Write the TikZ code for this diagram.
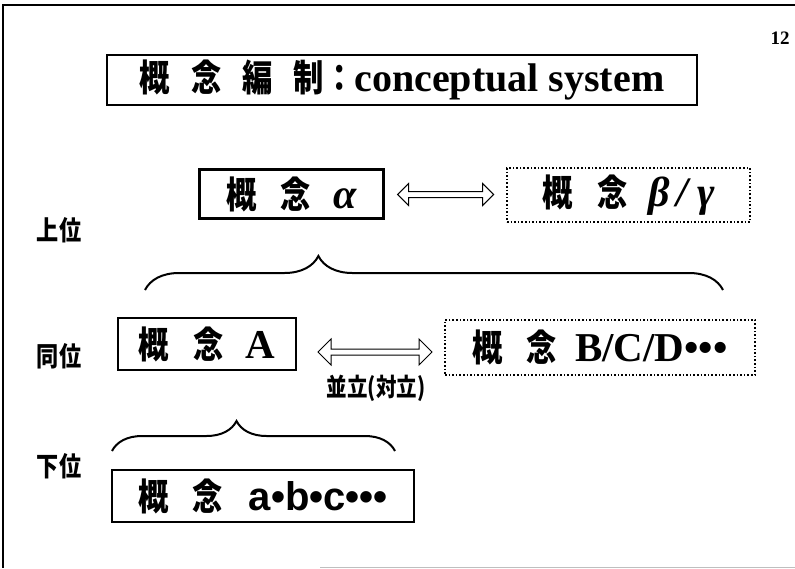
\documentclass[tikz,border=0pt]{standalone}
\usepackage{fontspec}
\setmainfont{Liberation Serif}
\newfontfamily\jp{Noto Sans CJK JP}[FakeStretch=0.82]
\newfontfamily\lsans{Liberation Sans}
\usetikzlibrary{shapes.arrows,decorations.pathreplacing,calc}
\newcommand{\kg}[1]{{\jp\bfseries\fontsize{37}{37}\selectfont 概\hspace{#1}念}}
\begin{document}
\begin{tikzpicture}[x=1pt,y=-1pt,
  solidbox/.style={draw, line width=2.8pt, inner sep=0pt, font=\bfseries},
  dotbox/.style={draw, dotted, line width=1.6pt, inner sep=0pt, font=\bfseries},
  hollowarrow/.style={double arrow, draw, line width=1pt, inner sep=2.5pt,
    double arrow head extend=8pt, minimum width=5pt},
  levellabel/.style={font=\jp\bfseries\fontsize{27}{27}\selectfont},
  bracestyle/.style={draw, line width=2pt, decorate},
]
\useasboundingbox (0,0) rectangle (795,568);
% page frame
\draw[line width=1.2pt] (795,5) -- (3,5) -- (3,568);
\draw[line width=0.6pt, black!25] (320,567) -- (795,567);
% page number
\node[font=\bfseries\fontsize{19}{19}\selectfont] (pg) at (780,38) {12};
% title
\node[solidbox, minimum width=590pt, minimum height=50pt] (title) at (402,80)
  {{\jp\fontsize{37}{37}\selectfont 概\hspace{21pt}念\hspace{21pt}編\hspace{21pt}制：}{\fontsize{40}{40}\selectfont conceptual system}};
% level labels
\node[levellabel] (upper) at (59,230) {上位};
\node[levellabel] (same) at (59,356) {同位};
\node[levellabel] (lower) at (59,466) {下位};
% upper row
\node[solidbox, minimum width=184pt, minimum height=49pt] (alpha) at (291.5,194)
  {\kg{24pt}\hspace{22pt}{\fontsize{42}{42}\selectfont\itshape α}};
\node[dotbox, minimum width=243pt, minimum height=54pt] (beta) at (628.5,195)
  {\kg{25pt}\hspace{20pt}{\fontsize{42}{42}\selectfont\itshape β\hspace{7pt}/\hspace{9pt}γ}};
\node[hollowarrow, minimum height=96pt] (arr1) at ($(alpha.east)!0.5!(beta.west)$) {};
% middle row
\node[solidbox, minimum width=178pt, minimum height=52pt] (A) at (207,344)
  {\kg{24pt}\hspace{22pt}{\fontsize{41}{41}\selectfont A}};
\node[dotbox, minimum width=310pt, minimum height=55pt] (BCD) at (600,347.5)
  {\kg{24pt}\hspace{18pt}{\fontsize{41}{41}\selectfont B/C/D•••}};
\node[hollowarrow, minimum height=114pt, double arrow head extend=10pt] (arr2) at (375,352) {};
\node[font=\jp\bfseries\fontsize{25}{25}\selectfont] (par) at (376,388) {並立(対立)};
% lower row
\node[solidbox, minimum width=302pt, minimum height=52pt] (abc) at (263,496)
  {\kg{24pt}\hspace{26pt}{\lsans\fontsize{40}{40}\selectfont a•b•c•••}};
% braces
\coordinate (b1l) at (145,290);
\coordinate (b1r) at (723,290);
\coordinate (b2l) at (112,451);
\coordinate (b2r) at (395,451);
\draw[bracestyle, decoration={brace, amplitude=34pt, aspect=0.30}] (b1l) -- (b1r);
\draw[bracestyle, decoration={brace, amplitude=30pt, aspect=0.44}] (b2l) -- (b2r);
\end{tikzpicture}
\end{document}
